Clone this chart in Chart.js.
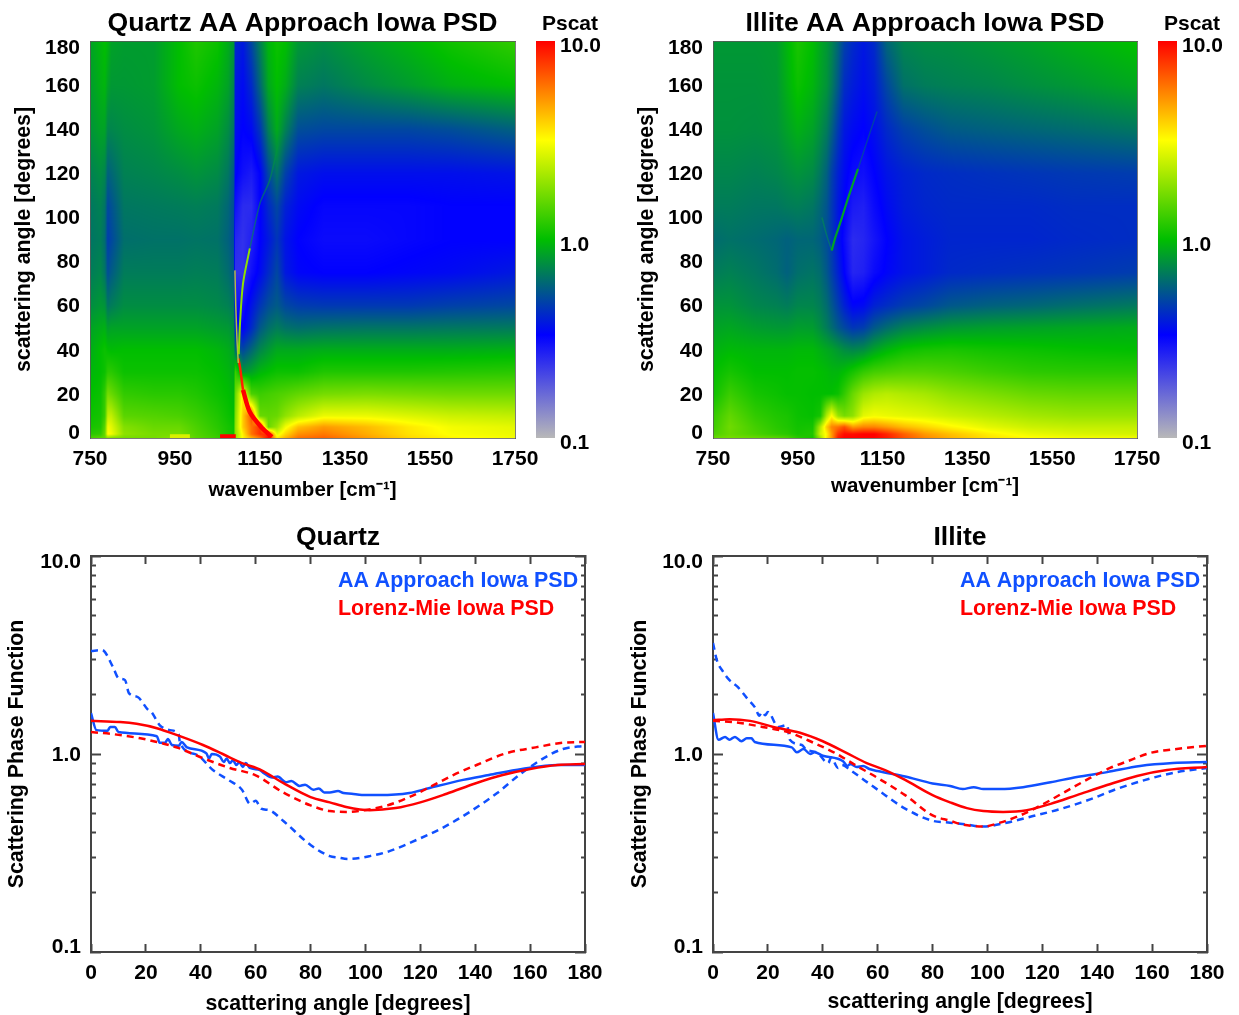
<!DOCTYPE html>
<html><head><meta charset="utf-8">
<script src="https://cdn.jsdelivr.net/npm/chart.js@4/dist/chart.umd.js"></script>
<style>html,body{margin:0;padding:0;background:#fff;overflow:hidden;height:100%}canvas{position:absolute;display:block}</style>
</head><body>
<script>
// ---------- heat map grids (Pscat) ----------
const heatRows=[0,1.8,5,10,20,30,40,50,60,75,90,105,120,140,160,180];
const quartzCols=[750,775,785,792,800,830,900,960,1000,1050,1075,1088,1092,1110,1130,1150,1170,1190,1210,1240,1300,1400,1500,1600,1750];
const quartzGrid=[
[1.4,1.5,1.6,1.9,1.8,1.7,1.7,1.9,1.5,1.3,1.2,1.1,2,3.3,4.5,6,10,3.5,4.5,6,6.5,5,3.8,3.3,3],
[1.2,1.25,1.6,3.2,3,1.9,1.7,1.7,1.45,1.25,1.1,1.05,1.9,3.4,6,8,8,2.8,3.8,5.2,5.8,4.6,3.6,3.1,2.9],
[1.1,1.15,1.5,3,2.8,1.8,1.6,1.6,1.4,1.2,1.1,1.05,1.9,4,6,8,1.6,2,3,4.2,5,4.3,3.5,3,2.8],
[1.05,1.1,1.3,2.4,2.4,1.5,1.45,1.4,1.3,1.15,1.05,1,1.8,4,7,1.6,1.55,1.6,1.9,2.3,2.9,2.9,2.7,2.5,2.4],
[1,1.05,1.25,1.7,1.6,1.25,1.2,1.2,1.15,1.05,1,.95,1.6,3.5,1.4,1.3,1.35,1.4,1.45,1.55,1.7,1.75,1.7,1.65,1.65],
[.95,1,1.05,1.2,1.2,1.05,1.05,1.05,1.05,1,.95,.9,1.3,.78,.85,.95,1,1.05,1.05,1.05,1.15,1.15,1.15,1.17,1.2],
[.9,1,1.05,1,.98,1,1,1,1,.95,.9,.85,.6,.5,.6,.72,.8,.88,.88,.88,.9,.9,.9,.9,.92],
[.85,.9,.92,.82,.85,.85,.85,.85,.85,.82,.8,.75,.4,.33,.42,.55,.63,.68,.64,.62,.64,.65,.65,.66,.67],
[.75,.8,.78,.65,.68,.75,.75,.75,.75,.73,.7,.65,.3,.3,.37,.45,.52,.56,.5,.47,.46,.46,.46,.48,.5],
[.68,.72,.65,.52,.56,.68,.68,.68,.69,.68,.62,.56,.24,.24,.3,.35,.42,.5,.38,.34,.33,.33,.34,.35,.38],
[.65,.68,.62,.47,.5,.63,.64,.64,.65,.64,.58,.52,.26,.24,.27,.33,.38,.45,.37,.33,.31,.31,.32,.33,.33],
[.66,.7,.65,.5,.53,.66,.67,.68,.69,.67,.6,.52,.3,.25,.25,.33,.42,.5,.4,.35,.32,.32,.32,.33,.33],
[.7,.75,.72,.58,.6,.7,.72,.75,.78,.74,.66,.55,.34,.3,.28,.33,.5,.65,.48,.38,.36,.36,.36,.36,.37],
[.78,.85,.85,.72,.72,.75,.78,.88,.92,.85,.75,.65,.36,.33,.35,.45,.7,.9,.7,.52,.5,.5,.5,.52,.58],
[.82,.92,.95,.85,.8,.8,.82,1,1.05,.95,.85,.72,.38,.35,.42,.6,.88,1,.9,.7,.66,.74,.82,.92,1],
[.85,.95,1,.95,.85,.82,.82,1,1.15,1.05,.9,.8,.42,.38,.5,.7,.95,1.05,1,.8,.75,.85,.95,1.08,1.25]];
const illiteCols=[750,790,850,900,925,950,985,1003,1018,1030,1045,1060,1080,1105,1130,1160,1200,1250,1310,1400,1500,1600,1750];
const illiteGrid=[
[1.6,1.7,1.6,1.5,1.4,1.2,1.1,2,3.5,5,9,10,10,10,10,9,7,5.5,4.5,3.6,3.2,3,3],
[1.4,1.6,1.4,1.25,1.2,1.1,1.15,2.5,3.3,5,8,9.5,9.5,10,10,8.5,6.5,5,4.2,3.4,2.9,2.7,2.6],
[1.3,1.65,1.35,1.2,1.15,1.08,1.1,2.2,4,5.5,6,7,5,5.5,5.5,5,4.3,3.8,3.3,2.8,2.5,2.4,2.4],
[1.25,1.55,1.25,1.15,1.12,1.05,1.02,1.1,2.2,3.2,2,1.7,1.9,2.8,3,2.9,2.8,2.7,2.5,2.3,2.1,2,2],
[1.05,1.3,1.1,1.05,1.02,1.02,1,1,1,1,1.05,1.25,1.6,2,2.2,2.3,2.2,2.1,1.9,1.75,1.6,1.55,1.55],
[1,1.1,1,1,1,1.02,1.02,1,.98,.95,.95,1,1.1,1.25,1.35,1.4,1.45,1.45,1.4,1.3,1.22,1.2,1.2],
[.93,.97,.95,.95,.95,.97,.97,.92,.88,.85,.8,.75,.72,.75,.85,.95,1.05,1.1,1.12,1.08,1.05,1.02,1],
[.85,.87,.82,.8,.8,.83,.82,.75,.68,.62,.55,.5,.45,.47,.55,.62,.7,.75,.8,.83,.85,.87,.9],
[.78,.78,.72,.7,.68,.72,.72,.68,.62,.55,.47,.4,.34,.35,.4,.43,.47,.5,.55,.58,.6,.63,.67],
[.68,.7,.66,.62,.58,.63,.65,.62,.55,.48,.4,.33,.26,.27,.31,.34,.37,.39,.42,.43,.44,.45,.47],
[.62,.64,.62,.6,.58,.6,.6,.57,.52,.46,.37,.31,.25,.26,.29,.33,.37,.39,.41,.41,.41,.42,.43],
[.68,.68,.66,.66,.68,.69,.66,.6,.54,.46,.38,.33,.28,.27,.31,.35,.39,.41,.42,.42,.42,.43,.43],
[.72,.72,.7,.72,.75,.78,.74,.66,.58,.48,.4,.35,.31,.3,.33,.37,.4,.42,.43,.44,.45,.46,.47],
[.77,.77,.76,.78,.85,.92,.85,.76,.68,.58,.46,.38,.35,.33,.36,.42,.48,.52,.56,.58,.6,.62,.66],
[.78,.78,.78,.8,.92,1.05,.95,.85,.78,.68,.55,.43,.39,.36,.39,.5,.64,.68,.7,.72,.76,.8,.88],
[.8,.8,.8,.82,.95,1.12,1,.88,.8,.72,.6,.48,.42,.38,.42,.6,.72,.75,.76,.8,.85,.92,1.02]];
// thin resonance ridges: wavenumber / angle
const qArcLowWn=[1100,1103,1110,1126],qArcLowAng=[38,52,70,86];
const qArcHighWn=[1126,1150,1173,1195],qArcHighAng=[86,106.5,117,135];
const qEdgeWn=[1091,1093,1096,1099],qEdgeAng=[76,60,44,34];
const qRedTopWn=[1099,1103,1110],qRedTopAng=[36,32,21.8];
const qRedLowWn=[1110,1126,1155,1178],qRedLowAng=[21.8,11.8,4.5,.5];
const qRedBandWn=[1056,1093],qRedBandAng=[.8,.8];
const qYellowBandWn=[938,985],qYellowBandAng=[.8,.8];
const iArcLeftWn=[1007,1018,1030],iArcLeftAng=[100,92,85];
const iArcWn=[1030,1037,1042,1050,1069,1092],iArcAng=[85,90,93,97.5,109,122];
const iArcFaintWn=[1092,1116,1137],iArcFaintAng=[122,136,148];
// ---------- colour bar ----------
const stopPositions=[0,.26,.5,.75,1];
const stopColors=[[184,184,184],[0,0,255],[0,190,0],[255,255,0],[255,0,0]];
const barTicks=[.1,1,10];
// ---------- axis ticks ----------
const wavenumberTicks=[750,950,1150,1350,1550,1750];
const angleTicks=[0,20,40,60,80,100,120,140,160,180];
const logTicks=[.1,.2,.3,.4,.5,.6,.7,.8,.9,1,2,3,4,5,6,7,8,9,10];
const logLabelled=[.1,1,10];
// ---------- phase functions ----------
const qAASolidX=[0,2,6,7,8.7,10,24,25,27,28,29.5,32,33,35,42,43,44,47,48.4,49.4,50.6,51.7,53,54,55.3,56.4,57.9,61.5,63,66,68,71,73,76,78,81,83,85,87,90,92,95,98.7,105,116,123.4,135.6,145,157,170,180];
const qAASolidY=[1.61,1.32,1.31,1.37,1.37,1.29,1.23,1.14,1.14,1.19,1.11,1.1,1.15,1.08,1.01,.95,1,.97,.91,.95,.9,.93,.88,.91,.86,.9,.85,.83,.8,.76,.77,.72,.73,.69,.7,.66,.67,.64,.64,.65,.635,.63,.62,.62,.635,.674,.74,.783,.84,.88,.88];
const qAADashX=[0,4,8,10,12.4,13.8,17,20.8,22,25,28.8,32,32.4,38.6,44.4,50,55,58,60,62,65,70,80,87,90,93.6,101.6,109,118.6,128,138,148,156,165,172,180];
const qAADashY=[3.31,3.35,2.75,2.42,2.36,2.03,1.94,1.67,1.63,1.4,1.32,1.25,1.14,.99,.83,.74,.66,.56,.58,.53,.52,.46,.347,.305,.3,.295,.305,.324,.368,.423,.51,.635,.783,.954,1.06,1.1];
const qMieSolidX=[0,10.6,16.6,24,32.4,40.8,48,55,62,70,80,87,93,101.6,111,120,129.6,140.5,150,160,170,180];
const qMieSolidY=[1.47,1.45,1.42,1.35,1.23,1.11,1,.9,.83,.714,.606,.57,.54,.52,.533,.57,.63,.714,.783,.84,.88,.89];
const qMieDashX=[0,8,18,24,32,41,50.6,60,70,80,87,93,99.5,108,116,123.4,132,140.5,151.4,162,172,180];
const qMieDashY=[1.29,1.26,1.2,1.15,1.07,.95,.85,.78,.64,.55,.515,.51,.52,.55,.606,.68,.783,.88,1.01,1.08,1.14,1.15];
const iAASolidX=[0,2,4.4,6,8,10.4,12.3,14,15.2,28.7,30.5,33,35.4,37,40,47.4,49,50,52.4,54.7,57,60,70,80,86.4,91,95,98.5,104.6,113,123,132.6,143.6,155.6,167.6,180];
const iAASolidY=[1.61,1.18,1.22,1.18,1.22,1.16,1.2,1.2,1.15,1.08,1.02,1.06,1,1.02,.98,.92,.87,.89,.86,.87,.84,.82,.77,.71,.69,.665,.68,.665,.665,.68,.72,.765,.81,.87,.9,.91];
const iAADashX=[0,1.4,3.7,6,9,12.3,15.4,16.9,17.8,19,20,23.8,27,28,32.4,34,37.8,42,43,45.6,47,50,55,60,70,80,86.4,92.5,98.5,107,116.6,126.5,137.4,147,159,169,180];
const iAADashY=[3.64,2.98,2.6,2.36,2.18,1.92,1.71,1.56,1.63,1.57,1.63,1.37,1.4,1.18,1.11,1.05,1.02,.9,.96,.85,.88,.83,.74,.66,.53,.46,.45,.44,.43,.45,.486,.527,.59,.665,.75,.81,.85];
const iMieSolidX=[0,6,13.5,22,31.7,40,48.8,56,62.7,70,80,86.4,92.5,98.5,105.7,114.4,123,132.6,143.6,154.5,165.4,180];
const iMieSolidY=[1.48,1.5,1.47,1.37,1.28,1.16,1.01,.9,.83,.74,.62,.57,.533,.515,.51,.52,.56,.62,.697,.775,.83,.86];
const iMieDashX=[0,7.4,18,28,36.6,44,52.4,60,70,80,86.4,91,98.5,104.6,112,119,127.5,137.4,144.7,152,159,169,180];
const iMieDashY=[1.47,1.45,1.37,1.28,1.14,1.02,.87,.757,.62,.49,.46,.44,.43,.45,.49,.546,.635,.757,.85,.93,1.01,1.06,1.1];

const FAM='"Liberation Sans",Arial,sans-serif';
const BLUE='#1050ff',RED='#ff0000',INK='#000';
const zip=(xs,ys)=>xs.map((x,i)=>({x,y:ys[i]}));

function pscatColor(v){
  const f=Math.min(1,Math.max(0,(Math.log10(v)+1)/2));
  let k=0;while(k<stopPositions.length-2&&f>stopPositions[k+1])k++;
  const t=(f-stopPositions[k])/(stopPositions[k+1]-stopPositions[k]);
  return stopColors[k].map((c,i)=>c+(stopColors[k+1][i]-c)*t);
}
class HeatmapController extends Chart.ScatterController{
  draw(){
    const meta=this._cachedMeta,xs=meta.xScale,ys=meta.yScale,ds=this.getDataset();
    const cols=ds.cols,rows=ds.rows,cells=ds.data,n=cols.length;
    const L=Math.round(xs.left),R=Math.round(xs.right),T=Math.round(ys.top),B=Math.round(ys.bottom);
    const W=R-L,H=B-T,off=document.createElement('canvas');off.width=W;off.height=H;
    const oc=off.getContext('2d'),img=oc.createImageData(W,H);
    const locate=(arr,val)=>{let i=0;while(i<arr.length-2&&val>arr[i+1])i++;
      return [i,Math.min(1,Math.max(0,(val-arr[i])/(arr[i+1]-arr[i])))];};
    const xl=[];for(let px=0;px<W;px++)xl.push(locate(cols,xs.getValueForPixel(L+px+.5)));
    for(let py=0;py<H;py++){
      const [r,u]=locate(rows,ys.getValueForPixel(T+py+.5));
      for(let px=0;px<W;px++){
        const [c,t]=xl[px];
        const a=Math.log10(cells[r*n+c].v),b=Math.log10(cells[r*n+c+1].v),
              d=Math.log10(cells[(r+1)*n+c].v),e=Math.log10(cells[(r+1)*n+c+1].v);
        const lv=(a*(1-t)+b*t)*(1-u)+(d*(1-t)+e*t)*u;
        const col=pscatColor(Math.pow(10,lv)),o=(py*W+px)*4;
        img.data[o]=col[0];img.data[o+1]=col[1];img.data[o+2]=col[2];img.data[o+3]=255;
      }
    }
    oc.putImageData(img,0,0);
    this.chart.ctx.drawImage(off,L,T);
  }
}
HeatmapController.id='heatmap';
HeatmapController.defaults=Chart.ScatterController.defaults;
HeatmapController.overrides=Chart.ScatterController.overrides;
Chart.register(HeatmapController);

// shift selected tick labels (edge labels sit inside the frame in the reference)
Chart.register({id:'nudge',beforeDraw(chart,_,o){
  for(const id in (o.map||{})){const s=chart.scales[id];if(!s)continue;
    s.getLabelItems(chart.chartArea).forEach(it=>{
      const d=(o.map[id][it.label]||0)+(o.map[id].all||0);if(d)it.options.translation[1]+=d;});}
}});
// legend text inside the plot
Chart.register({id:'insideLegend',afterDraw(chart,_,o){
  if(!o.items)return;const c=chart.ctx;c.save();c.font='bold 21.4px '+FAM;c.textBaseline='middle';c.textAlign='left';
  o.items.forEach(it=>{c.fillStyle=it.color;c.fillText(it.text,chart.chartArea.left+o.dx,chart.chartArea.top+it.dy);});
  c.restore();
}});

function mkCanvas(r){const c=document.createElement('canvas');c.width=r.w;c.height=r.h;
  c.style.left=r.x+'px';c.style.top=r.y+'px';c.style.width=r.w+'px';c.style.height=r.h+'px';document.body.appendChild(c);return c;}
const fit=n=>s=>{if(s.isHorizontal())s.height=n;else s.width=n;s.paddingLeft=s.paddingRight=s.paddingTop=s.paddingBottom=0;};
const font=(size,lh)=>({family:FAM,size,weight:'bold',lineHeight:lh||1.2});

function heatPanel(p){
  const r=p.rect,a=p.area,edge={color:'rgba(90,90,90,.8)',width:1,z:1};
  const noGrid={display:true,drawOnChartArea:false,drawTicks:false};
  const cells=[];p.rows.forEach((y,i)=>p.cols.forEach((x,j)=>cells.push({x,y,v:p.grid[i][j]})));
  const lines=p.ridges.map(d=>({label:d.label,data:zip(d.xs,d.ys),showLine:true,pointRadius:0,borderColor:d.color,borderWidth:d.width,tension:.3}));
  new Chart(mkCanvas(r),{type:'scatter',data:{datasets:[...lines,
    {type:'heatmap',label:'Pscat',data:cells,cols:p.cols,rows:p.rows,pointRadius:0}]},
  options:{responsive:false,animation:false,events:[],
    layout:{padding:{left:0,top:0,bottom:0,right:r.x+r.w-a.r}},
    plugins:{legend:{display:false},tooltip:{enabled:false},
      title:{display:true,fullSize:false,text:p.title,color:INK,font:font(26.6),padding:{top:0,bottom:a.t-r.y-26.6*1.2}},
      nudge:{map:{y:{'0':-6,'180':6,all:1}}}},
    scales:{
      x:{type:'linear',min:750,max:1750,afterBuildTicks:s=>{s.ticks=wavenumberTicks.map(v=>({value:v}));},afterFit:fit(r.y+r.h-a.b),
        grid:noGrid,border:edge,ticks:{color:INK,padding:p.xTickPad,maxRotation:0,autoSkip:false,callback:v=>String(v),font:font(21)},
        title:{display:true,text:'wavenumber [cm⁻¹]',color:INK,padding:{top:0,bottom:p.xTitlePad},font:font(20.5)}},
      x2:{type:'linear',position:'top',min:750,max:1750,afterFit:fit(0),grid:noGrid,border:edge,ticks:{display:false}},
      y:{type:'linear',min:0,max:180,afterBuildTicks:s=>{s.ticks=angleTicks.map(v=>({value:v}));},afterFit:fit(a.l-r.x),
        grid:noGrid,border:edge,ticks:{color:INK,padding:10,autoSkip:false,font:font(21)},
        title:{display:true,text:'scattering angle [degrees]',color:INK,padding:{top:11,bottom:0},font:font(21.3)}},
      y2:{type:'linear',position:'right',min:0,max:180,afterFit:fit(0),grid:noGrid,border:edge,ticks:{display:false}}
    }}});
}
function colorBar(r,a){
  new Chart(mkCanvas(r),{type:'bar',data:{labels:['Pscat'],datasets:[{label:'Pscat',data:[[barTicks[0],barTicks[2]]],barPercentage:1,categoryPercentage:1,
      backgroundColor(ctx){const ca=ctx.chart.chartArea;if(!ca)return '#888';
        const g=ctx.chart.ctx.createLinearGradient(0,ca.bottom,0,ca.top);
        stopPositions.forEach((s,i)=>g.addColorStop(s,'rgb('+stopColors[i].join(',')+')'));return g;}}]},
    options:{responsive:false,animation:false,events:[],
      layout:{padding:{left:a.l-r.x,top:0,bottom:r.y+r.h-a.b,right:0}},
      plugins:{legend:{display:false},tooltip:{enabled:false},
        title:{display:true,text:'Pscat',color:INK,font:font(21),padding:{top:0,bottom:a.t-r.y-25.2}}},
      scales:{
        x:{display:false},
        y:{type:'logarithmic',position:'right',min:.1,max:10,afterFit:fit(r.x+r.w-a.r),afterBuildTicks:s=>{s.ticks=barTicks.map(v=>({value:v}));},
          grid:{display:false,drawTicks:false},border:{display:false},
          ticks:{color:INK,padding:5,labelOffset:5.5,autoSkip:false,callback:v=>Number(v).toFixed(1),font:font(21)}}
      }}});
}
function linePanel(p){
  const r=p.rect,a=p.area,edge={color:'#444',width:2};
  const tickGrid=(len)=>({display:true,drawOnChartArea:false,drawTicks:true,tickLength:-len,tickColor:'#444',tickWidth:2});
  const logGrid=(startsInside)=>Object.assign(tickGrid(10),{
    tickBorderDash:ctx=>(ctx.tick&&logLabelled.includes(ctx.tick.value))?[]:[5,100],
    tickBorderDashOffset:ctx=>(ctx.tick&&logLabelled.includes(ctx.tick.value))?0:(startsInside?-5:0)});
  const mk=(label,xs,ys,color,dash)=>({label,data:zip(xs,ys),showLine:true,pointRadius:0,borderColor:color,borderWidth:2.5,borderDash:dash?[7,5]:[],cubicInterpolationMode:'monotone'});
  const lt=s=>{s.ticks=logTicks.map(v=>({value:v,major:logLabelled.includes(v)}));};
  const lin=s=>{s.ticks=angleTicks.map(v=>({value:v}));};
  new Chart(mkCanvas(r),{type:'scatter',data:{datasets:[
      mk('Lorenz-Mie Iowa PSD',p.mieX,p.mieY,RED,false),mk('Lorenz-Mie Iowa PSD (dashed)',p.mieDX,p.mieDY,RED,true),
      mk('AA Approach Iowa PSD',p.aaX,p.aaY,BLUE,false),mk('AA Approach Iowa PSD (dashed)',p.aaDX,p.aaDY,BLUE,true)]},
    options:{responsive:false,animation:false,events:[],
      layout:{padding:{left:0,top:0,bottom:0,right:r.x+r.w-a.r}},
      plugins:{legend:{display:false},tooltip:{enabled:false},
        title:{display:true,fullSize:false,text:p.title,color:INK,font:font(26.6),padding:{top:0,bottom:a.t-r.y-26.6*1.2}},
        nudge:{map:{y:{'10.0':5,'0.1':-6,all:1}}},
        insideLegend:{dx:247,items:[{text:'AA Approach Iowa PSD',color:BLUE,dy:25},{text:'Lorenz-Mie Iowa PSD',color:RED,dy:53}]}},
      scales:{
        x:{type:'linear',min:0,max:180,afterBuildTicks:lin,afterFit:fit(r.y+r.h-a.b),grid:tickGrid(8),border:edge,
          ticks:{color:INK,padding:17,maxRotation:0,autoSkip:false,font:font(21)},
          title:{display:true,text:'scattering angle [degrees]',color:INK,padding:{top:0,bottom:p.xTitlePad},font:font(21.3)}},
        x2:{type:'linear',position:'top',min:0,max:180,afterBuildTicks:lin,afterFit:fit(0),grid:tickGrid(8),border:edge,ticks:{display:false}},
        y:{type:'logarithmic',min:.1,max:10,afterBuildTicks:lt,afterFit:fit(a.l-r.x),grid:logGrid(true),border:edge,
          ticks:{color:INK,padding:20,autoSkip:false,callback:v=>logLabelled.includes(v)?Number(v).toFixed(1):'',font:font(21)},
          title:{display:true,text:'Scattering Phase Function',color:INK,padding:{top:4,bottom:0},font:font(21.3)}},
        y2:{type:'logarithmic',position:'right',min:.1,max:10,afterBuildTicks:lt,afterFit:fit(0),grid:logGrid(false),border:edge,ticks:{display:false}}
      }}});
}
heatPanel({title:'Quartz AA Approach Iowa PSD',rect:{x:0,y:8,w:550,h:495},area:{l:90,r:515,t:41,b:438},cols:quartzCols,rows:heatRows,grid:quartzGrid,xTickPad:9,xTitlePad:0,
  ridges:[{label:'arc',xs:qArcLowWn,ys:qArcLowAng,color:'#8fe000',width:2},{label:'arc upper',xs:qArcHighWn,ys:qArcHighAng,color:'rgba(0,150,60,.55)',width:1.5},
          {label:'edge',xs:qEdgeWn,ys:qEdgeAng,color:'#b4be3c',width:1.5},{label:'red ridge top',xs:qRedTopWn,ys:qRedTopAng,color:'#ff2000',width:2.5},
          {label:'red ridge',xs:qRedLowWn,ys:qRedLowAng,color:'#ff0000',width:4.5},{label:'red band',xs:qRedBandWn,ys:qRedBandAng,color:'#ff0000',width:4},
          {label:'yellow band',xs:qYellowBandWn,ys:qYellowBandAng,color:'#d8f000',width:4}]});
heatPanel({title:'Illite AA Approach Iowa PSD',rect:{x:623,y:8,w:550,h:491},area:{l:713,r:1137,t:41,b:438},cols:illiteCols,rows:heatRows,grid:illiteGrid,xTickPad:9,xTitlePad:0,
  ridges:[{label:'arc',xs:iArcWn,ys:iArcAng,color:'rgba(0,170,30,.95)',width:2.2},{label:'arc left',xs:iArcLeftWn,ys:iArcLeftAng,color:'rgba(0,160,60,.45)',width:1.5},
          {label:'arc faint',xs:iArcFaintWn,ys:iArcFaintAng,color:'rgba(0,110,110,.5)',width:1.5}]});
colorBar({x:526,y:12,w:78,h:449},{l:536,r:555,t:41,b:438});
colorBar({x:1148,y:12,w:78,h:449},{l:1158,r:1177,t:41,b:438});
linePanel({title:'Quartz',rect:{x:0,y:522,w:610,h:495},area:{l:91,r:585,t:556,b:952},xTitlePad:0,
  aaX:qAASolidX,aaY:qAASolidY,aaDX:qAADashX,aaDY:qAADashY,mieX:qMieSolidX,mieY:qMieSolidY,mieDX:qMieDashX,mieDY:qMieDashY});
linePanel({title:'Illite',rect:{x:623,y:522,w:610,h:495},area:{l:713,r:1207,t:556,b:952},xTitlePad:2,
  aaX:iAASolidX,aaY:iAASolidY,aaDX:iAADashX,aaDY:iAADashY,mieX:iMieSolidX,mieY:iMieSolidY,mieDX:iMieDashX,mieDY:iMieDashY});
</script>
</body></html>
